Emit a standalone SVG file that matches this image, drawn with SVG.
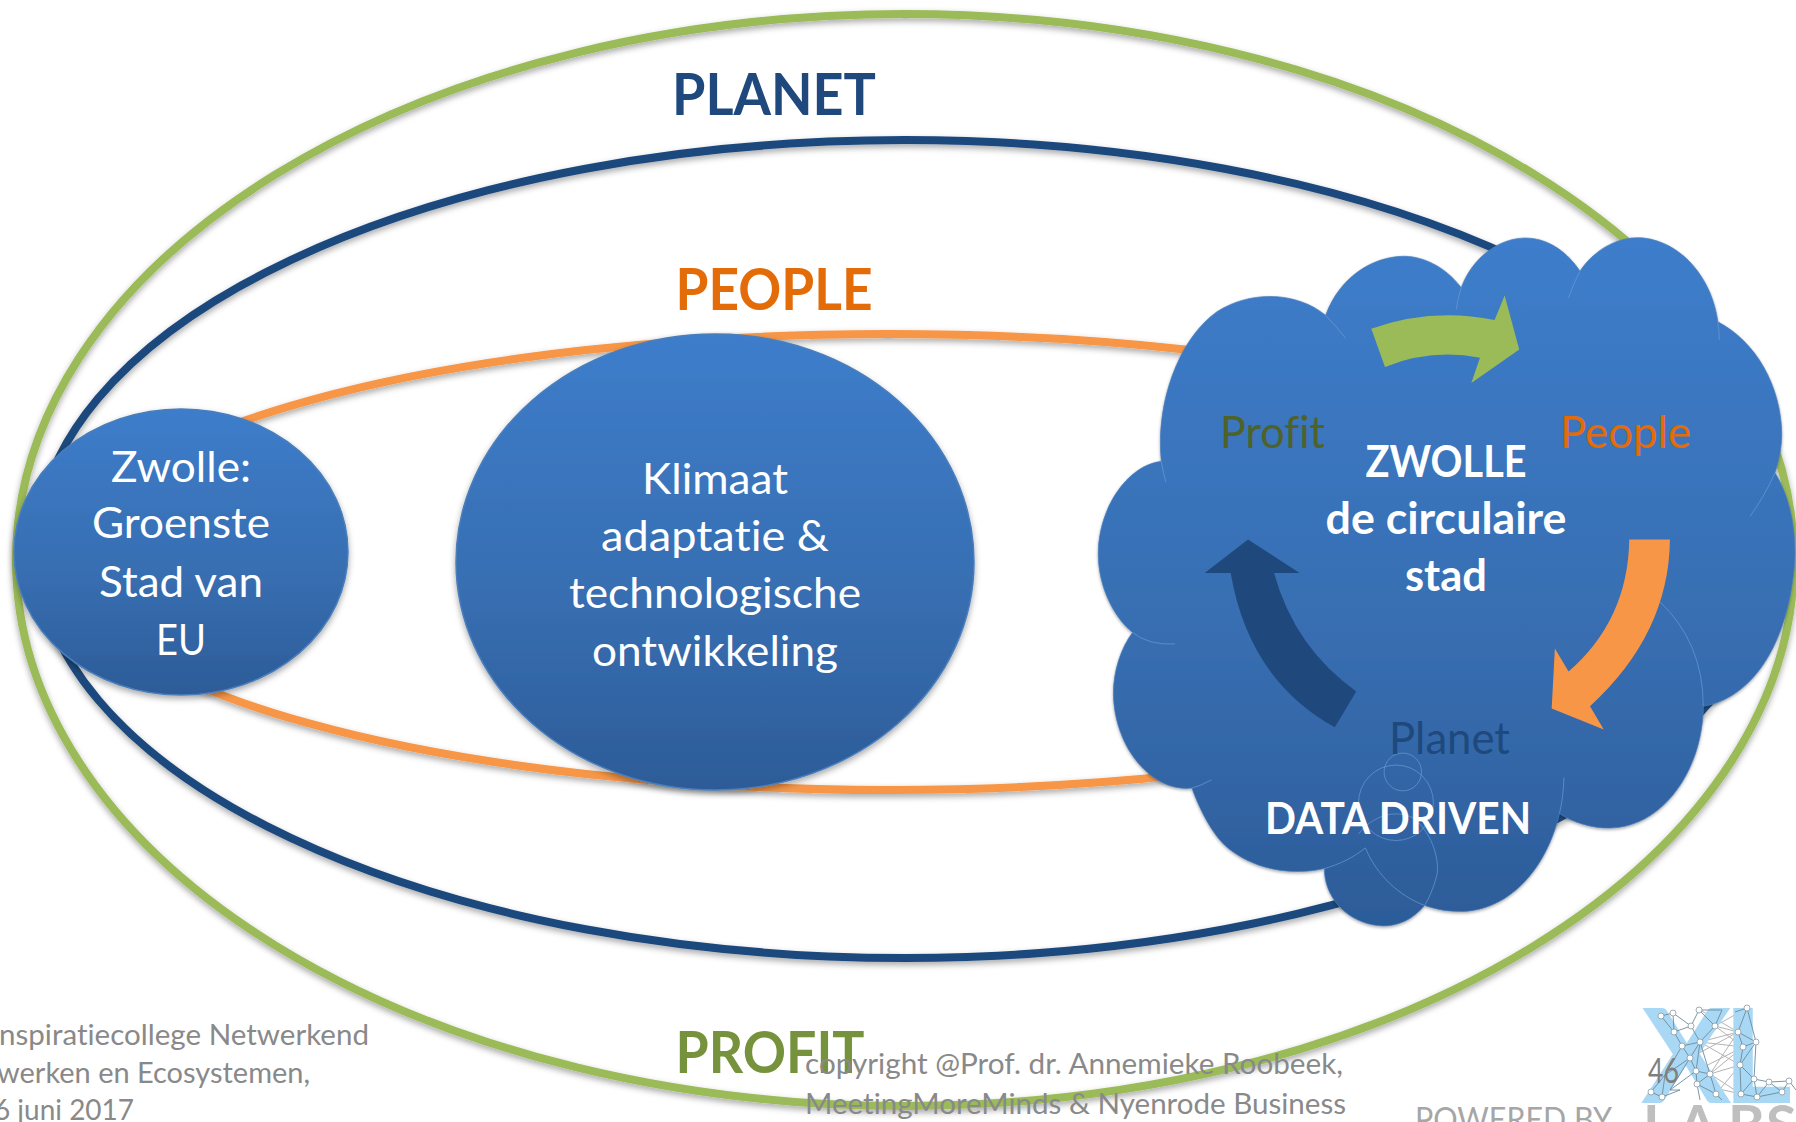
<svg xmlns="http://www.w3.org/2000/svg" width="1796" height="1122" viewBox="0 0 1796 1122">
<style>
text{font-family:"Lato","Noto Sans",sans-serif;font-variant-ligatures:none}
.ring{fill:none;stroke-width:8}
.b{font-weight:700}
.w{fill:#fff}
.m{text-anchor:middle}
.foot{fill:#898989;font-size:29px}
.blob{stroke:#4a7ebb;stroke-width:1.5;filter:url(#sh)}
.seam{fill:none;stroke:#6a9ad8;stroke-width:1.5}
.net{stroke:#6d8a9c;stroke-width:.9;fill:none}
.grey{stroke:#b4b4b4;stroke-width:1;fill:none}
.dot{fill:#fff;stroke:#8a9aa5;stroke-width:.8}
</style>
<defs>
<linearGradient id="g" x1="0" y1="0" x2="0" y2="1"><stop offset="0" stop-color="#3d7dcb"/><stop offset=".6" stop-color="#376db0"/><stop offset="1" stop-color="#2c5c98"/></linearGradient>
<filter id="sh" x="-5%" y="-5%" width="110%" height="110%"><feDropShadow dx="0" dy="3" stdDeviation="3" flood-color="#000" flood-opacity=".35"/></filter>
</defs>
<rect width="1796" height="1122" fill="#fff"/>
<g id="connectors">
<ellipse id="ring-profit" class="ring" cx="905" cy="560" rx="889" ry="546" stroke="#9bbb59" filter="url(#sh)"/>
<ellipse id="ring-planet" class="ring" cx="905" cy="549" rx="868" ry="409" stroke="#1f497d" filter="url(#sh)"/>
<ellipse id="ring-people" class="ring" cx="888" cy="562" rx="820" ry="228" stroke="#f79646" filter="url(#sh)"/>
</g>
<g id="label-planet"><text class="b m" x="774" y="115" font-size="58" fill="#1f497d" textLength="204" lengthAdjust="spacingAndGlyphs">PLANET</text></g>
<g id="label-people"><text class="b m" x="774" y="310" font-size="58" fill="#e36c09" textLength="197" lengthAdjust="spacingAndGlyphs">PEOPLE</text></g>
<g id="label-profit"><text class="b m" x="770" y="1073" font-size="58" fill="#76923c" textLength="189" lengthAdjust="spacingAndGlyphs">PROFIT</text></g>
<g id="node-zwolle">
<ellipse cx="181" cy="552" rx="167" ry="143" fill="url(#g)" class="blob"/>
<g class="w m" font-size="43">
<text x="181" y="482" textLength="140" lengthAdjust="spacingAndGlyphs">Zwolle:</text>
<text x="181" y="538" textLength="178" lengthAdjust="spacingAndGlyphs">Groenste</text>
<text x="181" y="597" textLength="164" lengthAdjust="spacingAndGlyphs">Stad van</text>
<text x="181" y="655" textLength="50" lengthAdjust="spacingAndGlyphs">EU</text>
</g>
</g>
<g id="node-klimaat">
<ellipse cx="715" cy="562" rx="259" ry="228" fill="url(#g)" class="blob"/>
<g class="w m" font-size="43">
<text x="715" y="494" textLength="146" lengthAdjust="spacingAndGlyphs">Klimaat</text>
<text x="715" y="551" textLength="228" lengthAdjust="spacingAndGlyphs">adaptatie &amp;</text>
<text x="715" y="608" textLength="292" lengthAdjust="spacingAndGlyphs">technologische</text>
<text x="715" y="666" textLength="246" lengthAdjust="spacingAndGlyphs">ontwikkeling</text>
</g>
</g>
<g id="node-cloud">
<g transform="translate(1080 219.6) scale(.4566 .4603)">
<path fill="url(#g)" class="blob" d="M178 525C165 400 215 260 300 200C380 150 480 160 538 208C570 120 650 75 720 80C770 85 810 115 835 148C860 80 920 40 975 40C1030 40 1070 75 1095 112C1130 60 1185 35 1235 40C1320 50 1385 130 1397 222C1480 265 1535 360 1537 465C1537 495 1530 525 1522 550C1560 610 1575 700 1560 790C1540 930 1470 1040 1365 1057C1365 1190 1280 1320 1160 1322C1120 1322 1080 1310 1050 1290C1020 1420 930 1505 830 1503C800 1503 775 1497 755 1490C720 1530 680 1540 640 1532C580 1520 535 1470 535 1410C470 1425 390 1415 330 1370C295 1345 265 1290 245 1235C160 1245 75 1150 73 1030C73 980 90 930 115 897C70 860 38 790 40 720C42 630 100 535 178 525Z"/>
<path class="seam" d="M178 525Q182 550 188 570M538 208Q560 230 582 258M835 148Q828 170 824 195M1095 112Q1080 140 1070 170M1397 222Q1400 240 1400 262M1522 550Q1500 600 1467 645M1270 830Q1365 920 1365 1057M1060 1212Q1058 1260 1050 1290M115 897Q150 925 208 922M245 1235Q265 1230 288 1217"/>
<circle class="seam" cx="707" cy="1200" r="41"/>
<circle class="seam" cx="692" cy="1267" r="82"/>
<path class="seam" d="M535 1410C570 1400 600 1385 625 1365C650 1425 700 1470 755 1490M610 1335C640 1295 690 1280 730 1300C775 1335 790 1400 780 1430Q770 1465 755 1490"/>
<path fill="#9bbb59" d="M638 237Q770 190 908 218L930 165L962 282L857 355L876 300Q770 280 668 320Z"/>
<path fill="#f79646" d="M1203 695H1292Q1290 900 1117 1057L1147 1108L1033 1062L1040 932L1070 982Q1200 870 1203 695Z"/>
<path fill="#1f497d" d="M605 1025L558 1103Q370 1000 330 768H273L368 695L481 768H425Q470 930 605 1025Z"/>
</g>
<text x="1220" y="448" font-size="44" fill="#4f6228" textLength="105" lengthAdjust="spacingAndGlyphs">Profit</text>
<text x="1560" y="448" font-size="44" fill="#e36c09" textLength="131" lengthAdjust="spacingAndGlyphs">People</text>
<text x="1389" y="754" font-size="44" fill="#1f497d" textLength="121" lengthAdjust="spacingAndGlyphs">Planet</text>
<g class="w b m" font-size="43">
<text x="1446" y="477" textLength="161" lengthAdjust="spacingAndGlyphs">ZWOLLE</text>
<text x="1446" y="534" textLength="241" lengthAdjust="spacingAndGlyphs">de circulaire</text>
<text x="1446" y="591" textLength="82" lengthAdjust="spacingAndGlyphs">stad</text>
<text x="1398" y="834" textLength="266" lengthAdjust="spacingAndGlyphs">DATA DRIVEN</text>
</g>
</g>
<g id="footer-left" class="foot">
<text x="-1" y="1045" textLength="370" lengthAdjust="spacingAndGlyphs">nspiratiecollege Netwerkend</text>
<text x="-3" y="1083" textLength="313" lengthAdjust="spacingAndGlyphs">werken en Ecosystemen,</text>
<text x="-6" y="1120" textLength="140" lengthAdjust="spacingAndGlyphs">6 juni 2017</text>
</g>
<g id="footer-center" class="foot">
<text x="805" y="1074" textLength="538" lengthAdjust="spacingAndGlyphs">copyright @Prof. dr. Annemieke Roobeek,</text>
<text x="805" y="1114" textLength="541" lengthAdjust="spacingAndGlyphs">MeetingMoreMinds &amp; Nyenrode Business</text>
</g>
<g id="powered"><text x="1415" y="1131" font-size="33" fill="#a6a6a6" textLength="197" lengthAdjust="spacingAndGlyphs">POWERED BY</text></g>
<g id="logo">
<g class="grey"><path d="M1715 1026L1738 1032M1715 1026L1743 1047M1715 1026L1747 1008M1700 1042L1738 1032M1700 1042L1743 1047M1700 1042L1740 1065M1690 1058L1738 1032M1696 1071L1743 1047M1710 1074L1738 1032M1710 1074L1743 1047M1710 1074L1740 1065M1710 1074L1741 1094M1716 1094L1740 1065M1697 1084L1741 1094M1700 1010L1738 1032"/></g>
<text y="1102" font-family="Liberation Sans" font-weight="700" font-size="129" fill="#a9d8f5" stroke="#a9d8f5" stroke-width="2"><tspan x="1643">X</tspan><tspan x="1724">L</tspan></text>
<g class="net"><path d="M1661 1016L1673 1013L1674 1032L1661 1016M1673 1013L1691 1026L1674 1032L1682 1046L1700 1042L1691 1026L1699 1010L1715 1026L1700 1042L1690 1058L1682 1046M1699 1010L1722 1010L1715 1026M1690 1058L1696 1071L1700 1042L1710 1074L1696 1071L1697 1084L1710 1074L1716 1094L1697 1084L1700 1100M1682 1046L1665 1075L1690 1058L1670 1090L1696 1071M1651 1092L1665 1075L1662 1097L1651 1092M1662 1097L1680 1090L1670 1090M1716 1094L1722 1100M1747 1008L1738 1032L1756 1042L1747 1008M1735 1012L1747 1008M1738 1032L1743 1047L1756 1042L1740 1065L1743 1047M1740 1065L1754 1079L1756 1042M1740 1065L1741 1094L1754 1079L1757 1097L1741 1094M1754 1079L1769 1082L1757 1097L1782 1092L1769 1082M1782 1092L1789 1081L1769 1082M1789 1081L1796 1090"/></g>
<g class="dot"><circle cx="1661" cy="1016" r="3"/><circle cx="1673" cy="1013" r="3"/><circle cx="1699" cy="1010" r="3"/><circle cx="1691" cy="1026" r="3"/><circle cx="1715" cy="1026" r="3"/><circle cx="1674" cy="1032" r="3"/><circle cx="1682" cy="1046" r="3"/><circle cx="1700" cy="1042" r="3"/><circle cx="1690" cy="1058" r="3"/><circle cx="1696" cy="1071" r="3"/><circle cx="1710" cy="1074" r="3"/><circle cx="1697" cy="1084" r="3"/><circle cx="1651" cy="1092" r="3"/><circle cx="1662" cy="1097" r="3"/><circle cx="1716" cy="1094" r="3"/><circle cx="1747" cy="1008" r="3"/><circle cx="1738" cy="1032" r="3"/><circle cx="1756" cy="1042" r="3"/><circle cx="1743" cy="1047" r="3"/><circle cx="1740" cy="1065" r="3"/><circle cx="1754" cy="1079" r="3"/><circle cx="1769" cy="1082" r="3"/><circle cx="1789" cy="1081" r="3"/><circle cx="1741" cy="1094" r="3"/><circle cx="1757" cy="1097" r="3"/><circle cx="1782" cy="1092" r="3"/></g>
<text y="1145" font-family="Liberation Sans" font-weight="700" font-size="56" fill="#bfbfbf" x="1643 1678 1728 1766">LABS</text>
</g>
<g id="page-number"><text x="1648" y="1083" font-size="34" fill="#7f7f7f" textLength="31" lengthAdjust="spacingAndGlyphs">46</text></g>
</svg>
